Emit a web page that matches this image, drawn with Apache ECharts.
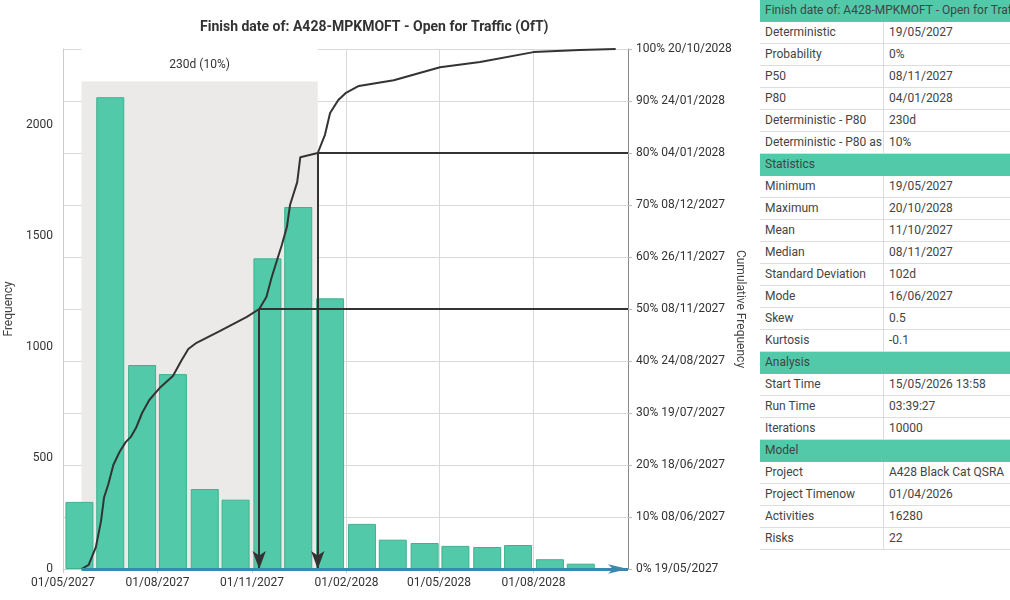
<!DOCTYPE html>
<html>
<head>
<meta charset="utf-8">
<script src="https://cdn.jsdelivr.net/npm/echarts@6/dist/echarts.min.js"></script>
<style>
  body { margin: 0; background: #fff; font-family: Roboto, sans-serif; }
  #main { position: absolute; left: 0; top: 0; width: 760px; height: 600px; }
  #stats { position: absolute; left: 760px; top: 0; width: 250px; font-size: 12px; color: #444; }
  .row { display: flex; height: 21px; line-height: 21px; border-bottom: 1px solid #ddd; }
  .row.head { background: #52c9a8; border-bottom-color: #52c9a8; }
  .row div { white-space: nowrap; overflow: hidden; box-sizing: border-box; padding-left: 5px; }
  .row .k { width: 124px; border-right: 1px solid #ddd; }
  .row .v { flex: 1; }
  .row.head .k { width: 250px; border-right: none; }
</style>
</head>
<body>
<div id="main"></div>
<div id="stats"></div>
<script>
  // x axis range and tick dates
  const xMin = "2027-05-01";
  const xMax = "2028-11-01";
  const xTickDates = ["2027-05-01", "2027-08-01", "2027-11-01", "2028-02-01", "2028-05-01", "2028-08-01"];

  // histogram
  const binDates = [
    "2027-05-17", "2027-06-16", "2027-07-17", "2027-08-16", "2027-09-16", "2027-10-16",
    "2027-11-16", "2027-12-16", "2028-01-16", "2028-02-16", "2028-03-17", "2028-04-17",
    "2028-05-17", "2028-06-17", "2028-07-17", "2028-08-17", "2028-09-16",
  ];
  const binCounts = [302, 2123, 918, 877, 360, 312, 1398, 1629, 1218, 203, 132, 117, 104, 99, 108, 44, 24];

  // cumulative curve (%)
  const cumDates = [
    "2027-05-19", "2027-05-26", "2027-06-02", "2027-06-07", "2027-06-10", "2027-06-14",
    "2027-06-19", "2027-06-25", "2027-07-01", "2027-07-06", "2027-07-11", "2027-07-17",
    "2027-07-24", "2027-08-03", "2027-08-16", "2027-08-24", "2027-08-31", "2027-09-08",
    "2027-10-01", "2027-10-27", "2027-11-08", "2027-11-15", "2027-11-20", "2027-11-26",
    "2027-11-30", "2027-12-05", "2027-12-08", "2027-12-15", "2027-12-18", "2028-01-04",
    "2028-01-11", "2028-01-16", "2028-01-24", "2028-01-31", "2028-02-13", "2028-03-18",
    "2028-05-02", "2028-06-10", "2028-08-01", "2028-09-15", "2028-10-20",
  ];
  const cumPct = [
    0, 0.8, 4.2, 9.2, 13.8, 16.2,
    20, 22.5, 24.4, 25.4, 27.1, 30,
    32.5, 34.8, 37.1, 40, 42.3, 43.5,
    45.8, 48.5, 50, 52.3, 56, 59.8,
    62.3, 65.8, 70, 74.4, 79.2, 80,
    83.5, 87.7, 90.2, 91.5, 92.9, 94,
    96.5, 97.5, 99.4, 99.8, 100,
  ];
  const cumTickLabels = [
    "19/05/2027", "08/06/2027", "18/06/2027", "19/07/2027", "24/08/2027", "08/11/2027",
    "26/11/2027", "08/12/2027", "04/01/2028", "24/01/2028", "20/10/2028",
  ];

  // key dates
  const deterministicDate = "2027-05-19";
  const p50Date = "2027-11-08";
  const p80Date = "2028-01-04";
  const shadeLabel = "230d (10%)";

  const tableRows = [
    ["Finish date of: A428-MPKMOFT - Open for Traffic (OfT)", null],
    ["Deterministic", "19/05/2027"],
    ["Probability", "0%"],
    ["P50", "08/11/2027"],
    ["P80", "04/01/2028"],
    ["Deterministic - P80", "230d"],
    ["Deterministic - P80 as", "10%"],
    ["Statistics", null],
    ["Minimum", "19/05/2027"],
    ["Maximum", "20/10/2028"],
    ["Mean", "11/10/2027"],
    ["Median", "08/11/2027"],
    ["Standard Deviation", "102d"],
    ["Mode", "16/06/2027"],
    ["Skew", "0.5"],
    ["Kurtosis", "-0.1"],
    ["Analysis", null],
    ["Start Time", "15/05/2026 13:58"],
    ["Run Time", "03:39:27"],
    ["Iterations", "10000"],
    ["Model", null],
    ["Project", "A428 Black Cat QSRA"],
    ["Project Timenow", "01/04/2026"],
    ["Activities", "16280"],
    ["Risks", "22"],
  ];

  const ts = (s) => {
    const [y, m, d] = s.split("-").map(Number);
    return new Date(y, m - 1, d).getTime();
  };
  const pad = (n) => (n < 10 ? "0" + n : "" + n);
  const fmtDate = (v) => {
    const d = new Date(v);
    return pad(d.getDate()) + "/" + pad(d.getMonth() + 1) + "/" + d.getFullYear();
  };

  // table
  document.getElementById("stats").innerHTML = tableRows
    .map(([k, v]) =>
      v === null
        ? `<div class="row head"><div class="k">${k}</div></div>`
        : `<div class="row"><div class="k">${k}</div><div class="v">${v}</div></div>`
    )
    .join("");

  const chart = echarts.init(document.getElementById("main"));
  const tickTs = xTickDates.map(ts);

  const option = {
    animation: false,
    textStyle: { fontFamily: "Roboto" },
    title: {
      text: "Finish date of: A428-MPKMOFT - Open for Traffic (OfT)",
      left: 195,
      top: 15,
      textStyle: { fontSize: 14, fontWeight: "bold", color: "#333", fontFamily: "Roboto" },
    },
    grid: { left: 63, right: 132, top: 49, bottom: 31, outerBoundsMode: "none", containLabel: false },
    xAxis: {
      type: "value",
      min: ts(xMin),
      max: ts(xMax),
      axisLine: { lineStyle: { color: "#ccc" } },
      axisTick: { show: true, customValues: tickTs, length: 4, lineStyle: { color: "#ccc" } },
      axisLabel: {
        customValues: tickTs,
        formatter: (v) => fmtDate(v),
        color: "#333",
        fontSize: 12,
        margin: 8,
      },
      splitLine: { show: true, lineStyle: { color: "#d9d9d9" } },
    },
    yAxis: [
      {
        type: "value",
        min: 0,
        max: 2340,
        interval: 500,
        name: "Frequency",
        nameLocation: "middle",
        nameGap: 41,
        nameTextStyle: { color: "#444", fontSize: 12 },
        axisLine: { show: true, lineStyle: { color: "#ccc" } },
        axisTick: { show: false },
        axisLabel: { color: "#333", fontSize: 12, margin: 10, showMaxLabel: false, formatter: (v) => String(v) },
        splitLine: { show: false },
      },
      {
        type: "value",
        position: "right",
        min: 0,
        max: 100,
        interval: 10,
        name: "Cumulative Frequency",
        nameLocation: "middle",
        nameRotate: -90,
        nameGap: 106,
        nameMoveOverlap: false,
        nameTextStyle: { color: "#444", fontSize: 12 },
        axisLine: { show: true, lineStyle: { color: "#888" } },
        axisTick: { show: true, length: 4, lineStyle: { color: "#bbb" } },
        axisLabel: {
          color: "#333",
          fontSize: 12,
          margin: 8,
          formatter: (v) => v + "% " + cumTickLabels[Math.round(v / 10)],
        },
        splitLine: { show: true, lineStyle: { color: "#d9d9d9" } },
      },
    ],
    series: [
      {
        // shaded band between deterministic and P80
        name: "band",
        type: "line",
        data: [],
        xAxisIndex: 0,
        yAxisIndex: 1,
        z: 1,
        silent: true,
        markArea: {
          silent: true,
          data: [
            [
              { xAxis: ts(deterministicDate), yAxis: 0, itemStyle: { color: "#ebeae8" } },
              { xAxis: ts(p80Date), yAxis: 93.8 },
            ],
            [
              {
                xAxis: ts(deterministicDate),
                yAxis: 93.8,
                itemStyle: { color: "#fff" },
                label: { show: true, position: "inside", formatter: shadeLabel, color: "#333", fontSize: 12 },
              },
              { xAxis: ts(p80Date), yAxis: 100 },
            ],
          ],
        },
      },
      {
        name: "Frequency",
        type: "bar",
        xAxisIndex: 0,
        yAxisIndex: 0,
        z: 2,
        barWidth: 28,
        data: binDates.map((d, i) => [ts(d), binCounts[i]]),
        itemStyle: { color: "#52c9a8", borderColor: "#40b08f", borderWidth: 1 },
      },
      {
        name: "Cumulative Frequency",
        type: "line",
        xAxisIndex: 0,
        yAxisIndex: 1,
        z: 3,
        symbol: "none",
        data: cumDates.map((d, i) => [ts(d), cumPct[i]]),
        lineStyle: { color: "#333", width: 2 },
        markLine: {
          silent: true,
          symbol: ["none", "none"],
          label: { show: false },
          lineStyle: { color: "#333", width: 2, type: "solid" },
          data: [
            [{ coord: [ts(p50Date), 50] }, { coord: [ts(xMax), 50] }],
            [{ coord: [ts(p80Date), 80] }, { coord: [ts(xMax), 80] }],
            [{ coord: [ts(p50Date), 50] }, { coord: [ts(p50Date), 0], symbol: "arrow", symbolSize: [10, 18] }],
            [{ coord: [ts(p80Date), 80] }, { coord: [ts(p80Date), 0], symbol: "arrow", symbolSize: [10, 18] }],
          ],
        },
      },
      {
        // deterministic marker along the x axis
        name: "deterministic",
        type: "line",
        data: [],
        xAxisIndex: 0,
        yAxisIndex: 1,
        z: 4,
        silent: true,
        markLine: {
          silent: true,
          symbol: ["none", "arrow"],
          symbolSize: [7, 20],
          label: { show: false },
          lineStyle: { color: "#3a87b0", width: 3, type: "solid" },
          data: [[{ coord: [ts(deterministicDate), 0] }, { coord: [ts(xMax), 0] }]],
        },
      },
    ],
  };
  chart.setOption(option);
</script>
</body>
</html>
